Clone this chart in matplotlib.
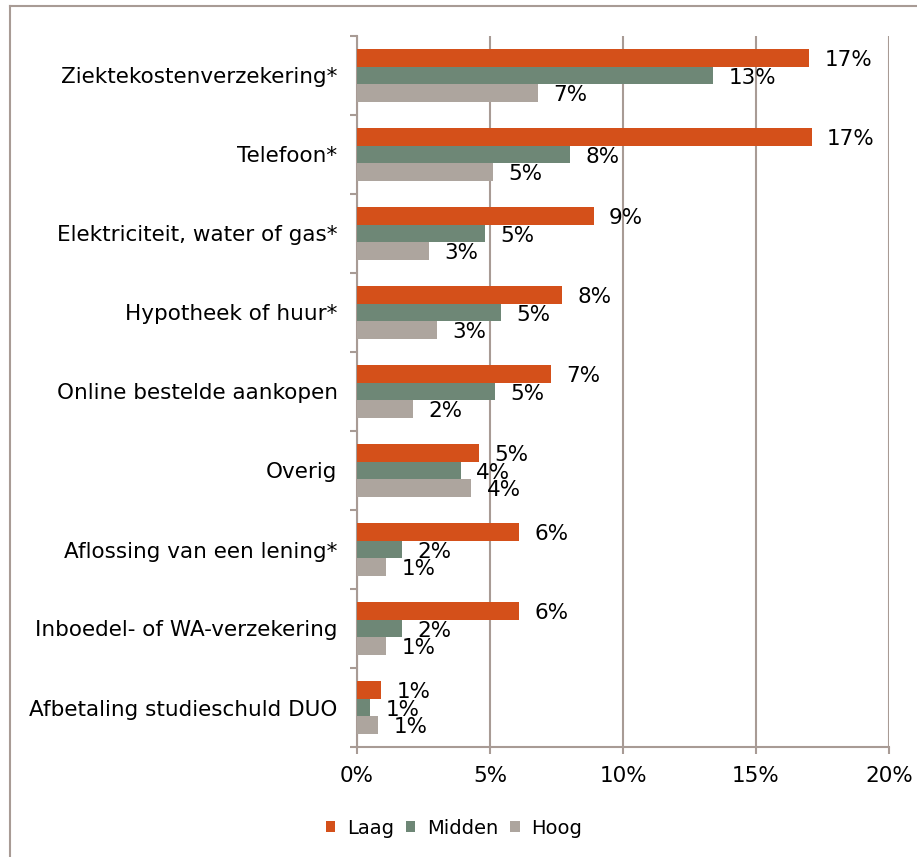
import matplotlib
matplotlib.use("Agg")
import matplotlib.pyplot as plt
from matplotlib.lines import Line2D
from matplotlib.ticker import FixedLocator
import numpy as np

categories = ["Ziektekostenverzekering*", "Telefoon*", "Elektriciteit, water of gas*",
              "Hypotheek of huur*", "Online bestelde aankopen", "Overig",
              "Aflossing van een lening*", "Inboedel- of WA-verzekering",
              "Afbetaling studieschuld DUO"]
laag = [17.0, 17.1, 8.9, 7.7, 7.3, 4.6, 6.1, 6.1, 0.9]
midden = [13.4, 8.0, 4.8, 5.4, 5.2, 3.9, 1.7, 1.7, 0.5]
hoog = [6.8, 5.1, 2.7, 3.0, 2.1, 4.3, 1.1, 1.1, 0.8]
laag_lbl = ["17%", "17%", "9%", "8%", "7%", "5%", "6%", "6%", "1%"]
midden_lbl = ["13%", "8%", "5%", "5%", "5%", "4%", "2%", "2%", "1%"]
hoog_lbl = ["7%", "5%", "3%", "3%", "2%", "4%", "1%", "1%", "1%"]
series_names = ["Laag", "Midden", "Hoog"]
xticks = [0, 5, 10, 15, 20]
xtick_labels = ["0%", "5%", "10%", "15%", "20%"]

colors = ["#D4501A", "#6E8776", "#ADA59E"]
gridc = "#A89B95"

plt.rcParams['font.family'] = ['DejaVu Sans']
fig = plt.figure(figsize=(9.17, 8.57), dpi=100)
ax = fig.add_axes([357/917, 1 - 747/857, (889 - 357)/917, (747 - 36)/857])

n = len(categories)
y = np.arange(n)
h = 0.222
fs = 15.5
for i, (vals, lbls, c, name) in enumerate(zip([laag, midden, hoog],
                                              [laag_lbl, midden_lbl, hoog_lbl],
                                              colors, series_names)):
    pos = y + (i - 1) * h
    ax.barh(pos, vals, height=h, color=c, label=name, zorder=3)
    for p, v, l in zip(pos, vals, lbls):
        ax.annotate(l, (v, p), xytext=(11, -1.5), textcoords="offset points",
                    ha="left", va="center", fontsize=fs, color="black", zorder=4)

ax.set_ylim(n - 0.5, -0.5)
ax.set_xlim(0, 20)
ax.set_yticks(y)
ax.set_yticklabels(categories, fontsize=fs)
ax.yaxis.set_minor_locator(FixedLocator(np.arange(-0.5, n, 1.0)))
ax.tick_params(axis="y", which="major", length=0, pad=14)
ax.tick_params(axis="y", which="minor", length=5, color=gridc, width=1.5)
ax.set_xticks(xticks)
ax.set_xticklabels(xtick_labels, fontsize=fs)
ax.tick_params(axis="x", length=5, color=gridc, width=1.5, pad=9)
ax.grid(axis="x", color=gridc, linewidth=1.5, zorder=0)
for s in ["top", "right"]:
    ax.spines[s].set_visible(False)
for s in ["left", "bottom"]:
    ax.spines[s].set_color(gridc)
    ax.spines[s].set_linewidth(1.5)

leg = fig.legend(loc="center", bbox_to_anchor=(454/917, 1 - 828/857), ncol=3,
                 frameon=False, fontsize=14, handlelength=0.5, handleheight=0.5,
                 handletextpad=0.6, columnspacing=0.6)

fig.add_artist(Line2D([10/917, 10/917], [0, 1 - 6/857], color=gridc, linewidth=1.5,
                      transform=fig.transFigure))
fig.add_artist(Line2D([10/917, 1], [1 - 6/857, 1 - 6/857], color=gridc, linewidth=1.5,
                      transform=fig.transFigure))

fig.savefig("out.png", dpi=100)
